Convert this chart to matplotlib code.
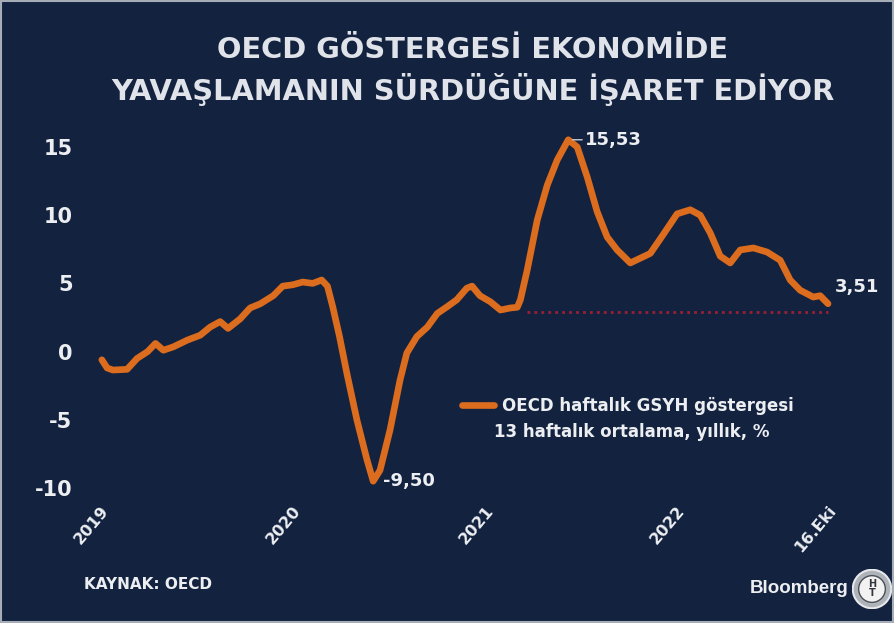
import pandas as pd
import matplotlib
matplotlib.use("Agg")
import matplotlib.pyplot as plt
from matplotlib.patches import Rectangle, Circle

# weekly OECD GDP tracker, 13-week average, yoy %
dates = ["2019-01-04", "2019-01-14", "2019-01-25", "2019-02-21", "2019-03-12",
         "2019-04-01", "2019-04-16", "2019-05-01", "2019-05-20", "2019-06-16",
         "2019-07-10", "2019-07-29", "2019-08-17", "2019-09-01", "2019-09-24",
         "2019-10-13", "2019-11-01", "2019-11-26", "2019-12-14", "2020-01-02",
         "2020-01-21", "2020-02-09", "2020-02-26", "2020-03-08", "2020-03-18",
         "2020-03-31", "2020-04-14", "2020-05-03", "2020-05-22", "2020-06-03",
         "2020-06-16", "2020-07-05", "2020-07-24", "2020-08-06", "2020-08-25",
         "2020-09-14", "2020-10-03", "2020-10-22", "2020-11-09", "2020-11-28",
         "2020-12-08", "2020-12-23", "2021-01-12", "2021-01-31", "2021-02-19",
         "2021-03-04", "2021-03-10", "2021-03-23", "2021-04-11", "2021-04-30",
         "2021-05-19", "2021-06-09", "2021-06-26", "2021-07-15", "2021-08-03",
         "2021-08-22", "2021-09-10", "2021-10-05", "2021-10-24", "2021-11-12",
         "2021-12-06", "2022-01-02", "2022-01-27", "2022-02-15", "2022-03-06",
         "2022-03-25", "2022-04-13", "2022-05-02", "2022-05-27", "2022-06-22",
         "2022-07-17", "2022-08-05", "2022-08-24", "2022-09-18", "2022-10-01",
         "2022-10-16"]
values = [-0.6, -1.2, -1.35, -1.3, -0.5,
          0.0, 0.6, 0.1, 0.35, 0.85,
          1.2, 1.8, 2.2, 1.7, 2.4,
          3.2, 3.5, 4.1, 4.8, 4.9,
          5.1, 5.0, 5.25, 4.8, 3.3,
          1.1, -1.6, -5.0, -7.9, -9.50,
          -8.7, -5.75, -2.1, -0.1, 1.1,
          1.8, 2.8, 3.3, 3.8, 4.65,
          4.8, 4.1, 3.65, 3.05, 3.2,
          3.25, 3.8, 6.0, 9.65, 12.2,
          14.05, 15.53, 15.0, 12.8, 10.25,
          8.4, 7.45, 6.5, 6.85, 7.2,
          8.55, 10.1, 10.4, 10.0, 8.7,
          7.0, 6.5, 7.45, 7.6, 7.3,
          6.7, 5.25, 4.5, 4.0, 4.1,
          3.51]
ref_level = 2.9
ref_start = "2021-03-23"

tick_dates = ["2019-01-01", "2020-01-01", "2021-01-01", "2022-01-01", "2022-10-16"]
tick_labels = ["2019", "2020", "2021", "2022", "16.Eki"]
y_ticks = [15, 10, 5, 0, -5, -10]

title_lines = ["OECD GÖSTERGESİ EKONOMİDE", "YAVAŞLAMANIN SÜRDÜĞÜNE İŞARET EDİYOR"]
legend_lines = ["OECD haftalık GSYH göstergesi", "13 haftalık ortalama, yıllık, %"]

bg = "#13233f"
orange = "#dc6c1e"
txt = "#eceef2"

d = pd.to_datetime(dates)
s = pd.Series(values, index=d)

fig = plt.figure(figsize=(8.94, 6.23), dpi=100, facecolor=bg)
ax = fig.add_axes([0.0951, 0.1974, 0.867, 0.594])
ax.set_facecolor(bg)

ax.hlines(ref_level, pd.Timestamp(ref_start), d[-1], colors="#9a1f35",
          linestyles=(0, (1, 1.5)), lw=2, zorder=2)
ax.plot(d, values, color=orange, lw=4.8, solid_capstyle="round",
        solid_joinstyle="round", zorder=3, label=legend_lines[0])

ax.set_xlim(pd.Timestamp("2018-12-03"), pd.Timestamp("2022-12-16"))
ax.set_ylim(-10.88, 16.25)
ax.set_yticks(y_ticks)
ax.set_yticklabels([str(v) for v in y_ticks])
ax.set_xticks(pd.to_datetime(tick_dates))
ax.set_xticklabels(tick_labels, rotation=50, ha="right", rotation_mode="anchor")
ax.tick_params(axis="y", length=0, pad=9, labelsize=15, labelcolor=txt)
ax.tick_params(axis="x", length=0, pad=2, labelsize=11.5, labelcolor=txt)
for lab in ax.get_xticklabels() + ax.get_yticklabels():
    lab.set_fontweight("bold")
for sp in ax.spines.values():
    sp.set_visible(False)

# value labels
imax = s.idxmax()
imin = s.idxmin()
ax.annotate(f"{s.max():.2f}".replace(".", ","), (imax, s.max()),
            xytext=(12, 0), textcoords="offset points", va="center",
            color=txt, fontsize=13, fontweight="bold",
            arrowprops=dict(arrowstyle="-", color="#c8ccd4", lw=1, shrinkA=0, shrinkB=3))
ax.annotate(f"{s.min():.2f}".replace(".", ","), (imin, s.min()),
            xytext=(7, 0), textcoords="offset points", va="center",
            color=txt, fontsize=13, fontweight="bold")
ax.annotate(f"{values[-1]:.2f}".replace(".", ","), (d[-1], values[-1]),
            xytext=(5, 12), textcoords="offset points", va="center",
            color=txt, fontsize=13, fontweight="bold")

leg = ax.legend(loc="center left", bbox_to_anchor=(0.478, 1 - (406 - 130) / 370),
                frameon=False, handlelength=1.9, handletextpad=0.5,
                borderaxespad=0, prop={"weight": "bold", "size": 12})
for t in leg.get_texts():
    t.set_color(txt)
fig.text(632 / 894, 1 - 432 / 623, legend_lines[1], ha="center", va="center",
         color=txt, fontsize=12, fontweight="bold")

fig.text(0.529, 1 - 50 / 623, title_lines[0], ha="center", va="center",
         color="#e0e3e9", fontsize=20.8, fontweight="bold")
fig.text(0.529, 1 - 89 / 623, title_lines[1], ha="center", va="center",
         color="#e0e3e9", fontsize=20.8, fontweight="bold")
fig.text(0.094, 0.061, "KAYNAK: OECD", ha="left", va="center", color=txt,
         fontsize=11, fontweight="bold")
fig.text(0.949, 0.056, "Bloomberg", ha="right", va="center", color=txt,
         fontsize=13.5, family=["Liberation Sans", "DejaVu Sans"], fontweight="bold")

# small round logo, own axes so the circle stays round
lax = fig.add_axes([872 / 894 - 0.022, 1 - 589 / 623 - 0.0315, 0.044, 0.063])
lax.set_aspect("equal")
lax.set_xlim(-1, 1)
lax.set_ylim(-1, 1)
lax.axis("off")
lax.add_patch(Circle((0, 0), 0.98, facecolor="#aeb3ba", edgecolor="#e6e8eb", lw=1.5))
lax.add_patch(Circle((0, 0), 0.68, facecolor="#f2f2f2", edgecolor="#4a4f56", lw=1))
lax.text(0, 0.02, "H\nT", ha="center", va="center", color="#33363b",
         fontsize=7, fontweight="bold", linespacing=0.85)

fig.patches.append(Rectangle((0.001, 0.002), 0.998, 0.996, transform=fig.transFigure,
                             facecolor="none", edgecolor="#a7adb6", lw=1.5))

fig.savefig("out.png", dpi=100, facecolor=bg)
